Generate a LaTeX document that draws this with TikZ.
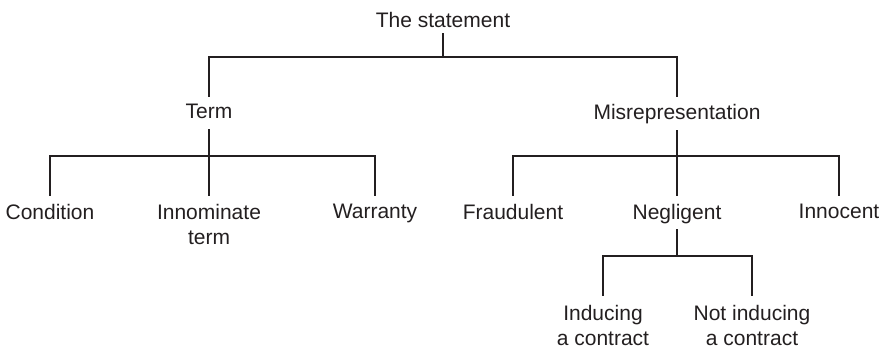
\documentclass[tikz,border=0pt]{standalone}
\usepackage{fontspec}
\setmainfont{Liberation Sans}
\definecolor{ink}{RGB}{35,31,32}
\begin{document}
\begin{tikzpicture}[x=1pt,y=1pt,
  lbl/.style={anchor=north,inner sep=0pt,outer sep=0pt,align=center,text=ink,
    font=\fontsize{21}{25}\selectfont},
  conn/.style={draw=ink,line width=1.7pt,line join=miter,line cap=butt}]
\useasboundingbox (0,0) rectangle (887,348);
% nodes (cap-top positions)
\node[lbl] (root) at (443,336) {The statement};
\node[lbl] (term) at (209,244) {Term};
\node[lbl] (mis)  at (677,244) {Misrepresentation};
\node[lbl] (cond) at (50,144)  {Condition};
\node[lbl] (inn)  at (209,144) {Innominate\\term};
\node[lbl] (war)  at (375,144) {Warranty};
\node[lbl] (fra)  at (513,144) {Fraudulent};
\node[lbl] (neg)  at (677,144) {Negligent};
\node[lbl] (ino)  at (839,144) {Innocent};
\node[lbl] (ind)  at (603,43)  {Inducing\\a contract};
\node[lbl] (nind) at (752,43)  {Not inducing\\a contract};
% bus coordinates
\coordinate (b1) at (443,291);
\coordinate (b2) at (209,192);
\coordinate (b3) at (677,192);
\coordinate (b4) at (677,92);
% connectors
\draw[conn] ([yshift=-6pt]root.base) -- (b1);
\draw[conn] ([yshift=7pt]term.north) |- (b1) -| ([yshift=7pt]mis.north);
\draw[conn] ([yshift=-11pt]term.base) -- ([yshift=8pt]inn.north);
\draw[conn] ([yshift=8pt]cond.north) |- (b2) -| ([yshift=8pt]war.north);
\draw[conn] ([yshift=-11pt]mis.base) -- ([yshift=8pt]neg.north);
\draw[conn] ([yshift=8pt]fra.north) |- (b3) -| ([yshift=8pt]ino.north);
\draw[conn] ([yshift=-10pt]neg.base) -- (b4);
\draw[conn] ([yshift=9pt]ind.north) |- (b4) -| ([yshift=9pt]nind.north);
\end{tikzpicture}
\end{document}
